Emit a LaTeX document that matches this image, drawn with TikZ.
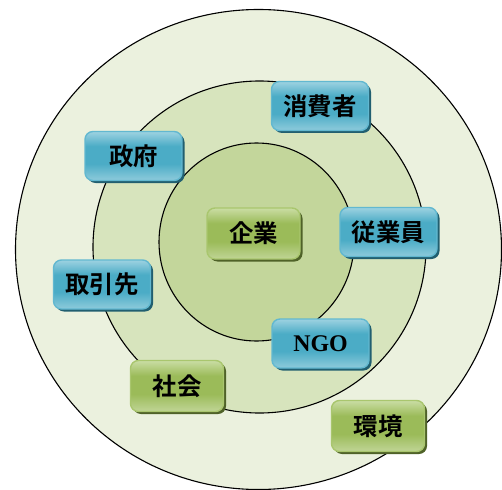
\documentclass[tikz,border=0pt]{standalone}
\usepackage{fontspec}
\newfontfamily\cjkb{Noto Sans CJK JP Bold}
\newfontfamily\serifb{Liberation Serif Bold}
\usetikzlibrary{shadows}
\definecolor{ringA}{HTML}{EBF1DE}
\definecolor{ringB}{HTML}{D7E4BD}
\definecolor{ringC}{HTML}{C3D69B}
\definecolor{blueT}{HTML}{9DD2E1}
\definecolor{blueM}{HTML}{4BACC6}
\definecolor{blueB}{HTML}{8ECBDB}
\definecolor{blueE}{HTML}{62B8D0}
\definecolor{blueS}{HTML}{215F70}
\definecolor{greenT}{HTML}{CADDA4}
\definecolor{greenM}{HTML}{9BBB59}
\definecolor{greenB}{HTML}{C0D596}
\definecolor{greenE}{HTML}{A9C66E}
\definecolor{greenS}{HTML}{4F6228}
\pgfdeclareverticalshading{blueshade}{100bp}{color(0bp)=(blueB); color(25bp)=(blueB); color(42bp)=(blueM); color(60bp)=(blueM); color(75bp)=(blueT); color(100bp)=(blueT)}
\pgfdeclareverticalshading{greenshade}{100bp}{color(0bp)=(greenB); color(25bp)=(greenB); color(42bp)=(greenM); color(60bp)=(greenM); color(75bp)=(greenT); color(100bp)=(greenT)}
\tikzset{
  ring/.style={draw=black, line width=1.1bp},
  bluebox/.style={rounded corners=8bp, shading=blueshade, draw=blueE, line width=1.4bp,
    minimum width=97bp, minimum height=49bp, inner sep=0pt,
    drop shadow={shadow xshift=2.5bp, shadow yshift=-2.5bp, fill=blueS, opacity=1},
    font=\cjkb\fontsize{24.5}{26}\selectfont},
  greenbox/.style={rounded corners=8bp, shading=greenshade, draw=greenE, line width=1.4bp,
    minimum width=93bp, minimum height=51bp, inner sep=0pt,
    drop shadow={shadow xshift=2.5bp, shadow yshift=-2.5bp, fill=greenS, opacity=1},
    font=\cjkb\fontsize{24.5}{26}\selectfont}
}
\begin{document}
\begin{tikzpicture}[x=1bp,y=-1bp]
\clip (0,0) rectangle (502,490);
\fill[white] (0,0) rectangle (502,490);
\draw[ring, fill=ringA] (258.5,249.5) ellipse [x radius=243, y radius=240];
\draw[ring, fill=ringB] (259.5,247) ellipse [x radius=166.5, y radius=166];
\draw[ring, fill=ringC] (256.5,242) ellipse [x radius=97.5, y radius=99];
\node[bluebox] (shohisha) at (320,106) {\raisebox{-3bp}{消費者}};
\node[bluebox] (seifu) at (133.5,156) {\raisebox{-3bp}{政府}};
\node[bluebox] (jugyoin) at (388.5,232) {\raisebox{-3bp}{従業員}};
\node[bluebox] (torihiki) at (102,284.5) {\raisebox{-3bp}{取引先}};
\node[bluebox, font=\serifb\fontsize{24}{26}\selectfont] (ngo) at (320.5,343.5) {\raisebox{-2bp}{NGO}};
\node[greenbox] (kigyo) at (253.5,233.5) {\raisebox{-3bp}{企業}};
\node[greenbox] (shakai) at (177,386) {\raisebox{-3bp}{社会}};
\node[greenbox] (kankyo) at (378,426) {\raisebox{-3bp}{環境}};
\end{tikzpicture}
\end{document}
